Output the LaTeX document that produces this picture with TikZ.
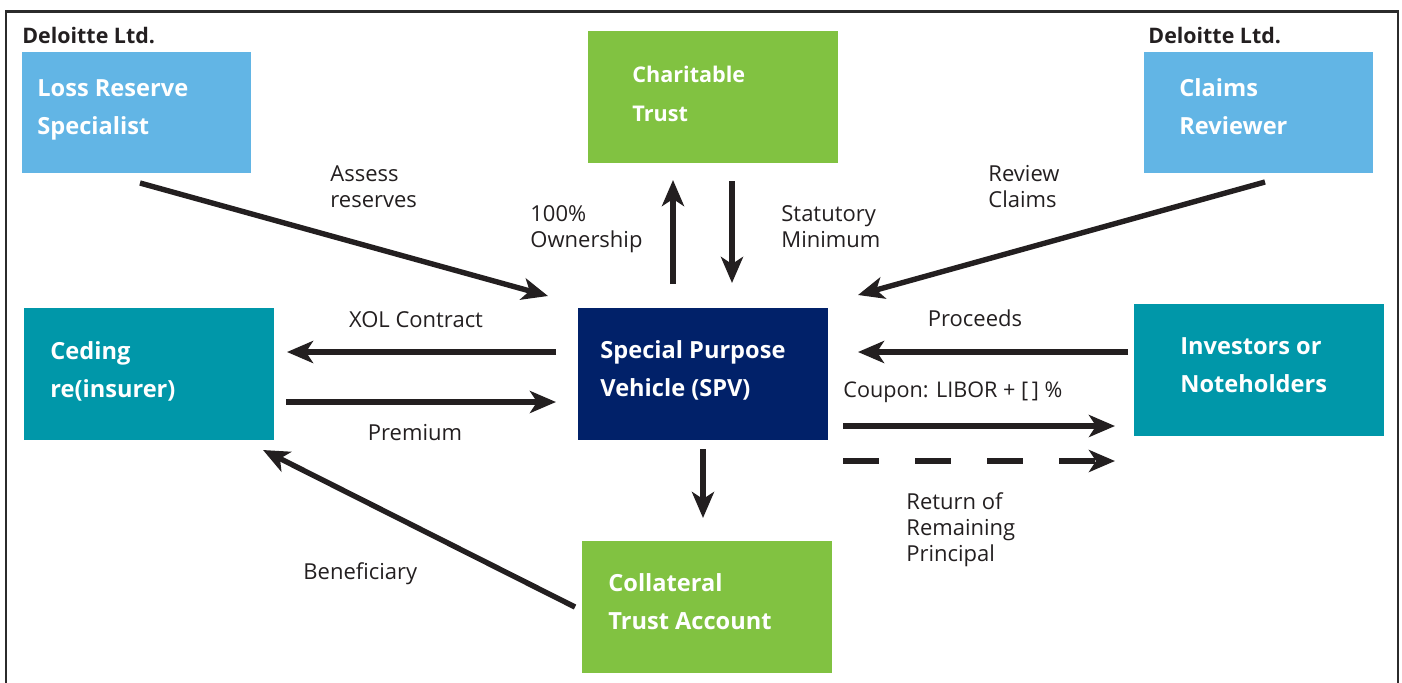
\documentclass[tikz,border=0pt]{standalone}
\usepackage{fontspec}
\setmainfont{Open Sans}
\usepackage{tikz}
\usetikzlibrary{arrows.meta}
\definecolor{dblue}{HTML}{62B5E5}
\definecolor{dgreen}{HTML}{81C241}
\definecolor{dteal}{HTML}{0097A9}
\definecolor{dnavy}{HTML}{012169}
\definecolor{ink}{HTML}{231F20}
\definecolor{frame}{HTML}{2B2B2B}

\tikzset{
	box/.style={anchor=north west, fill=#1, inner sep=0pt, minimum width=125pt, minimum height=66pt},
	boxtxt/.style={anchor=north west, text=white, font=\bfseries\fontsize{11.8}{19}\selectfont, align=left, inner sep=0pt},
	flow/.style={draw=ink, line width=2.7pt, -{Stealth[length=13pt,width=11pt,inset=3.5pt]}},
	lbl/.style={text=ink, font=\fontsize{11}{13}\selectfont, align=left, inner sep=0pt},
	firm/.style={text=ink, font=\bfseries\fontsize{10.7}{12}\selectfont, anchor=base west, inner sep=0pt},
}

\begin{document}
\begin{tikzpicture}[x=0.5pt,y=-0.5pt]
	\useasboundingbox (0,0) rectangle (1402,682);
	\draw[line width=1.1pt,draw=frame] (6,690) -- (6,11.5) -- (1398,11.5) -- (1398,690);

	% parties
	\node[firm] (firmL) at (22,43) {Deloitte Ltd.};
	\node[firm] (firmR) at (1148,43) {Deloitte Ltd.};
	\node[box=dblue, minimum width=114.5pt, minimum height=60.5pt] (lrs) at (22,52) {};
	\node[box=dgreen] (trust) at (588,31) {};
	\node[box=dblue, minimum width=114.5pt, minimum height=60.5pt] (claims) at (1144,52) {};
	\node[box=dteal] (ceding) at (24,308) {};
	\node[box=dnavy] (spv) at (578,308) {};
	\node[box=dteal] (inv) at (1134,304) {};
	\node[box=dgreen] (cta) at (582,541) {};

	\node[boxtxt] (lrsT) at ([shift={(15,27)}]lrs.north west) {Loss Reserve\\Specialist};
	\node[boxtxt,font=\bfseries\fontsize{10.8}{19.5}\selectfont] (trustT) at ([shift={(44,35)}]trust.north west) {Charitable\\Trust};
	\node[boxtxt] (claimsT) at ([shift={(35,26)}]claims.north west) {Claims\\Reviewer};
	\node[boxtxt] (cedingT) at ([shift={(26,33)}]ceding.north west) {Ceding\\re(insurer)};
	\node[boxtxt] (spvT) at ([shift={(22,32)}]spv.north west) {Special Purpose\\Vehicle (SPV)};
	\node[boxtxt] (invT) at ([shift={(46,33)}]inv.north west) {Investors or\\Noteholders};
	\node[boxtxt] (ctaT) at ([shift={(26,32)}]cta.north west) {Collateral\\Trust Account};

	% arrow ends
	\coordinate (rsvA) at (140,183);   \coordinate (rsvB) at (548,296);
	\coordinate (revA) at (1265,182);  \coordinate (revB) at (858,295);
	\coordinate (ownA) at (673,284);   \coordinate (ownB) at (673,180);
	\coordinate (statA) at (732,181);  \coordinate (statB) at (732,283);
	\coordinate (xolA) at (556,352);   \coordinate (xolB) at (287,352);
	\coordinate (premA) at (286,402);  \coordinate (premB) at (556,402);
	\coordinate (procA) at (1128,352); \coordinate (procB) at (858,352);
	\coordinate (coupA) at (843,426);  \coordinate (coupB) at (1115,426);
	\coordinate (retA) at (843,461);   \coordinate (retB) at (1115,461);
	\coordinate (colA) at (703,449);   \coordinate (colB) at (703,518);
	\coordinate (benA) at (575,607);   \coordinate (benB) at (263,450);

	\draw[flow] (rsvA) -- (rsvB);
	\draw[flow] (revA) -- (revB);
	\draw[flow] (ownA) -- (ownB);
	\draw[flow] (statA) -- (statB);
	\draw[flow] (xolA) -- (xolB);
	\draw[flow] (premA) -- (premB);
	\draw[flow] (procA) -- (procB);
	\draw[flow] (coupA) -- (coupB);
	\draw[flow,dash pattern=on 18pt off 18pt] (retA) -- (retB);
	\draw[flow] (colA) -- (colB);
	\draw[flow] (benA) -- (benB);

	% labels
	\node[lbl,anchor=north west] (lAssess) at (330,165) {Assess\\reserves};
	\node[lbl,anchor=north west] (lOwn) at (530,205) {100\%\\Ownership};
	\node[lbl,anchor=north west] (lStat) at (781,205) {Statutory\\Minimum};
	\node[lbl,anchor=north west] (lRev) at (988,165) {Review\\Claims};
	\node[lbl] (lXol) at (416,320) {XOL Contract};
	\node[lbl] (lPrem) at (415,433) {Premium};
	\node[lbl] (lProc) at (975,318) {Proceeds};
	\node[lbl,anchor=base west,font=\fontsize{10.8}{13}\selectfont] (lCoup) at (843,397) {Coupon: LIBOR + [\,] \%};
	\node[lbl,anchor=north west] (lRet) at (906,492) {Return of\\Remaining\\Principal};
	\node[lbl,anchor=base west] (lBen) at (303,579) {Beneficiary};
\end{tikzpicture}
\end{document}
